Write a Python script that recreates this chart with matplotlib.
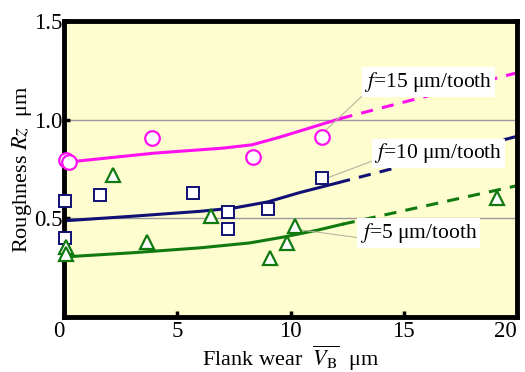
import matplotlib
matplotlib.use("Agg")
import matplotlib.pyplot as plt

plt.rcParams["font.family"] = ["Liberation Serif", "DejaVu Serif"]
plt.rcParams["mathtext.fontset"] = "stix"

# measured points
f15_x = [0.1, 0.2, 3.9, 8.35, 11.4]
f15_y = [0.795, 0.785, 0.905, 0.81, 0.91]
f10_x = [0.05, 0.05, 1.6, 5.7, 7.25, 7.25, 9.0, 11.4]
f10_y = [0.585, 0.40, 0.62, 0.63, 0.53, 0.446, 0.547, 0.704]
f5_x = [0.1, 0.1, 2.15, 3.65, 6.5, 9.1, 9.85, 10.2, 19.1]
f5_y = [0.355, 0.32, 0.72, 0.38, 0.51, 0.30, 0.375, 0.46, 0.60]

# fitted trend lines (solid part, then dashed extrapolation)
f15_fit_x = [0.2, 4.0, 7.0, 8.3, 9.5, 12.2]
f15_fit_y = [0.785, 0.83, 0.855, 0.872, 0.91, 1.005]
f15_ext_x = [12.2, 20.0]
f15_ext_y = [1.005, 1.237]

f10_fit_x = [0.0, 3.0, 6.0, 7.5, 9.0, 10.4, 12.1]
f10_fit_y = [0.487, 0.51, 0.535, 0.552, 0.583, 0.63, 0.68]
f10_ext_x = [12.1, 20.0]
f10_ext_y = [0.68, 0.915]

f5_fit_x = [0.0, 3.0, 6.0, 8.2, 9.7, 11.2, 12.3]
f5_fit_y = [0.304, 0.325, 0.35, 0.375, 0.405, 0.44, 0.47]
f5_ext_x = [12.3, 20.0]
f5_ext_y = [0.47, 0.665]

x_ticks = [0, 5, 10, 15, 20]
y_ticks = [0.5, 1.0, 1.5]

magenta = "#FF10F0"
navy = "#101075"
green = "#107A10"

fig = plt.figure(figsize=(5.25, 3.72), dpi=100)
ax = fig.add_axes([0.122, 0.148, 0.863, 0.796])
ax.set_facecolor("#FEFDD0")

ax.axhline(0.5, color="#9a9a9a", lw=1.0, zorder=1)
ax.axhline(1.0, color="#9a9a9a", lw=1.0, zorder=1)

ax.plot(f15_fit_x, f15_fit_y, color=magenta, lw=2.2, zorder=2)
ax.plot(f15_ext_x, f15_ext_y, color=magenta, lw=2.2, ls=(0, (4, 3)), zorder=2)
ax.plot(f10_fit_x, f10_fit_y, color=navy, lw=2.2, zorder=2)
ax.plot(f10_ext_x, f10_ext_y, color=navy, lw=2.2, ls=(0, (4, 3)), zorder=2)
ax.plot(f5_fit_x, f5_fit_y, color=green, lw=2.2, zorder=2)
ax.plot(f5_ext_x, f5_ext_y, color=green, lw=2.2, ls=(0, (4, 3)), zorder=2)

ax.plot(f15_x, f15_y, "o", ms=10.5, mfc="white", mec=magenta, mew=1.6, zorder=5, clip_on=False)
ax.plot(f10_x, f10_y, "s", ms=9, mfc="white", mec=navy, mew=1.4, zorder=5, clip_on=False)
ax.plot(f5_x, f5_y, "^", ms=10, mfc="white", mec=green, mew=1.6, zorder=5, clip_on=False)

# labels with leader lines
box = dict(boxstyle="square,pad=0.12", fc="white", ec="none")


def lead(rel):
    return dict(arrowstyle="-", color="#b8b4a0", lw=0.8, shrinkA=0, shrinkB=0, relpos=rel)


ax.annotate(r"$\mathit{f}$=15 μm/tooth", xy=(11.45, 0.935), xytext=(13.25, 1.19),
            ha="left", va="center", fontsize=15.5, bbox=box, arrowprops=lead((0, 0)), zorder=4)
ax.annotate(r"$\mathit{f}$=10 μm/tooth", xy=(11.4, 0.695), xytext=(13.7, 0.83),
            ha="left", va="center", fontsize=15.5, bbox=box, arrowprops=lead((0, 0.2)), zorder=4)
ax.annotate(r"$\mathit{f}$=5 μm/tooth", xy=(10.5, 0.44), xytext=(13.05, 0.425),
            ha="left", va="center", fontsize=15.5, bbox=box, arrowprops=lead((0, 0.3)), zorder=4)

ax.set_xlim(0, 20)
ax.set_ylim(0, 1.5)
ax.set_xticks(x_ticks)
ax.set_xticklabels([str(t) for t in x_ticks])
ax.set_yticks(y_ticks)
ax.set_yticklabels(["%.1f" % t for t in y_ticks])
ax.tick_params(direction="in", length=4, width=2.5, labelsize=16.5, pad=3)
ax.tick_params(axis="y", pad=1)
xl = ax.get_xticklabels()
xl[0].set_ha("right")
xl[-1].set_ha("right")

for s in ax.spines.values():
    s.set_linewidth(3.5)

ax.set_xlabel(r"Flank wear  $\overline{V_\mathrm{B}}$  μm", fontsize=16, labelpad=1)
ax.set_ylabel(r"Roughness $Rz$  μm", fontsize=16, labelpad=0)

fig.savefig("out.png", dpi=100)
